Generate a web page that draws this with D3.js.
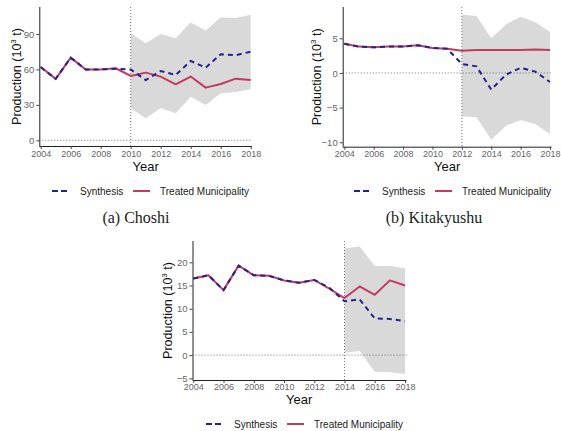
<!DOCTYPE html>
<html><head><meta charset="utf-8">
<script src="https://cdn.jsdelivr.net/npm/d3@7"></script>
<style>body{margin:0;background:#fff}svg{display:block}</style>
</head><body>
<svg id="c" width="561" height="431"></svg>
<script>
const years = [2004,2005,2006,2007,2008,2009,2010,2011,2012,2013,2014,2015,2016,2017,2018];
const bandYearsA = [2010,2011,2012,2013,2014,2015,2016,2017,2018];
const bandYearsB = [2012,2013,2014,2015,2016,2017,2018];
const bandYearsC = [2014,2015,2016,2017,2018];

// (a) Choshi
const treatedA = [62,52,70,60,60,61,54.5,57.3,53.9,47.4,54,44.6,47.7,52.2,51.1];
const synthA   = [62,52,70,60,60,60.5,60,51,58.7,55.3,67.2,61.5,72.9,72,75.1];
const bandUpA  = [90.7,82.2,90,86.4,99.7,92.9,103.9,103.5,106.4];
const bandLoA  = [27.1,18.6,27.4,22.8,36.9,29.9,39.8,40.9,43.2];
const yTicksA  = [0,30,60,90];

// (b) Kitakyushu
const treatedB = [4.2,3.8,3.7,3.8,3.8,4.0,3.6,3.5,3.2,3.3,3.3,3.3,3.3,3.4,3.3];
const synthB   = [4.2,3.8,3.7,3.8,3.8,4.0,3.6,3.5,1.3,0.95,-2.4,-0.25,0.75,0.2,-1.3];
const bandUpB  = [8.4,8.2,5.0,7.0,8.1,7.3,5.9];
const bandLoB  = [-6.25,-6.4,-9.65,-7.6,-6.8,-7.35,-8.8];
const yTicksB  = [-10,-5,0,5];

// (c)
const treatedC = [16.5,17.2,14.0,19.3,17.2,17.1,16.1,15.6,16.2,14.3,12.3,14.8,13.0,16.1,15.0];
const synthC   = [16.5,17.2,14.0,19.3,17.2,17.1,16.1,15.6,16.2,14.5,11.6,12.0,7.9,7.8,7.3];
const bandUpC  = [23.0,23.4,19.2,19.2,18.7];
const bandLoC  = [0.5,0.9,-3.6,-3.7,-4.1];
const yTicksC  = [-5,0,5,10,15,20];

const xTicks = [2004,2006,2008,2010,2012,2014,2016,2018];
const yTitle = "Production (10";
const xTitle = "Year";
const legendLabels = ["Synthesis","Treated Municipality"];
const captions = ["(a) Choshi","(b) Kitakyushu"];

const COL_SYN = "#23238c", COL_TR = "#c23a60", COL_BAND = "#d9d9d9";

const svg = d3.select("#c");

const panels = [
  {treated:treatedA, synth:synthA, bandYears:bandYearsA, up:bandUpA, lo:bandLoA, yTicks:yTicksA, treat:2010,
   xr:[40.7,250.7], yd:[0,90], yr:[140.3,34], left:39.3, top:7, bottom:146, right:252,
   yTitleX:17, xLabY:156.5, xTitleY:170.5, legY:191, legCx:150, caption:captions[0], capX:136, capY:223},
  {treated:treatedB, synth:synthB, bandYears:bandYearsB, up:bandUpB, lo:bandLoB, yTicks:yTicksB, treat:2012,
   xr:[344.3,550], yd:[5,-10], yr:[38.3,142.3], left:342.7, top:7, bottom:146.7, right:551.5,
   yTitleX:317, xLabY:156.5, xTitleY:170.5, legY:191, legCx:452, caption:captions[1], capX:434, capY:223},
  {treated:treatedC, synth:synthC, bandYears:bandYearsC, up:bandUpC, lo:bandLoC, yTicks:yTicksC, treat:2014,
   xr:[193.3,405], yd:[20,-5], yr:[262.3,378.3], left:192.5, top:241, bottom:380, right:406.5,
   yTitleX:168, xLabY:390, xTitleY:404, legY:424, legCx:304, caption:null}
];

panels.forEach(p => {
  const g = svg.append("g");
  const x = d3.scaleLinear().domain([2004,2018]).range(p.xr);
  const y = d3.scaleLinear().domain(p.yd).range(p.yr);
  const midY = (p.top + p.bottom)/2;

  // band
  const bandData = p.bandYears.map((yr,i)=>({yr, up:p.up[i], lo:p.lo[i]}));
  g.append("path").datum(bandData)
    .attr("fill", COL_BAND)
    .attr("d", d3.area().x(d=>x(d.yr)).y0(d=>y(d.lo)).y1(d=>y(d.up)));

  // reference lines
  g.append("line").attr("x1",p.left).attr("x2",p.right).attr("y1",y(0)).attr("y2",y(0))
    .attr("stroke","#666").attr("stroke-width",0.9).attr("stroke-dasharray","1,2");
  g.append("line").attr("x1",x(p.treat)).attr("x2",x(p.treat)).attr("y1",p.top).attr("y2",p.bottom)
    .attr("stroke","#666").attr("stroke-width",0.9).attr("stroke-dasharray","1,2");

  // lines
  const line = vals => d3.line().x((d,i)=>x(years[i])).y(d=>y(d))(vals);
  g.append("path").attr("d", line(p.treated)).attr("fill","none")
    .attr("stroke",COL_TR).attr("stroke-width",2).attr("stroke-linejoin","round");
  g.append("path").attr("d", line(p.synth)).attr("fill","none")
    .attr("stroke",COL_SYN).attr("stroke-width",2).attr("stroke-dasharray","5,4");

  // axes
  const xa = g.append("g").attr("transform",`translate(0,${p.bottom})`)
    .call(d3.axisBottom(x).tickValues(xTicks).tickFormat(d3.format("d")).tickSize(3).tickPadding(2));
  xa.select(".domain").attr("d",`M${p.left},0.5H${p.right}`).attr("stroke","#222").attr("stroke-width",1);
  const ya = g.append("g").attr("transform",`translate(${p.left},0)`)
    .call(d3.axisLeft(y).tickValues(p.yTicks).tickSize(3).tickPadding(2));
  ya.select(".domain").attr("d",`M0.5,${p.top}V${p.bottom}`).attr("stroke","#222").attr("stroke-width",1);
  [xa,ya].forEach(a=>{
    a.selectAll(".tick line").attr("stroke","#444");
    a.selectAll(".tick text").attr("fill","#666").attr("font-size","9.5px").attr("font-family","Liberation Sans, Arial, sans-serif");
  });
  xa.selectAll(".tick text").attr("dy",null).attr("y",null).attr("font-size","9px")
    .attr("transform",`translate(0,${p.xLabY - p.bottom})`);

  // titles
  g.append("text").attr("x",x(2011)).attr("y",p.xTitleY).attr("text-anchor","middle")
    .attr("font-family","Liberation Sans, Arial, sans-serif").attr("font-size","13px").attr("fill","#111").text(xTitle);
  const yt = g.append("text").attr("transform",`translate(${p.yTitleX},${midY}) rotate(-90)`)
    .attr("text-anchor","middle").attr("dy","0.35em")
    .attr("font-family","Liberation Sans, Arial, sans-serif").attr("font-size","12.5px").attr("fill","#111");
  yt.append("tspan").text(yTitle);
  yt.append("tspan").attr("font-size","8px").attr("dy","-5").text("3");
  yt.append("tspan").attr("dy","5").text(" t)");

  // legend
  const lg = g.append("g").attr("transform",`translate(${p.legCx-98},${p.legY})`)
    .attr("font-family","Liberation Sans, Arial, sans-serif").attr("font-size","10px").attr("fill","#222");
  lg.append("line").attr("x1",0).attr("x2",18).attr("stroke",COL_SYN).attr("stroke-width",2).attr("stroke-dasharray","6,3");
  lg.append("text").attr("x",28).attr("dy","0.35em").text(legendLabels[0]);
  lg.append("line").attr("x1",81).attr("x2",98).attr("stroke",COL_TR).attr("stroke-width",2);
  lg.append("text").attr("x",108).attr("dy","0.35em").text(legendLabels[1]);

  if (p.caption) {
    svg.append("text").attr("x",p.capX).attr("y",p.capY).attr("text-anchor","middle")
      .attr("font-family","Liberation Serif, DejaVu Serif, serif").attr("font-size","16px").attr("fill","#222")
      .text(p.caption);
  }
});
</script>
</body></html>
